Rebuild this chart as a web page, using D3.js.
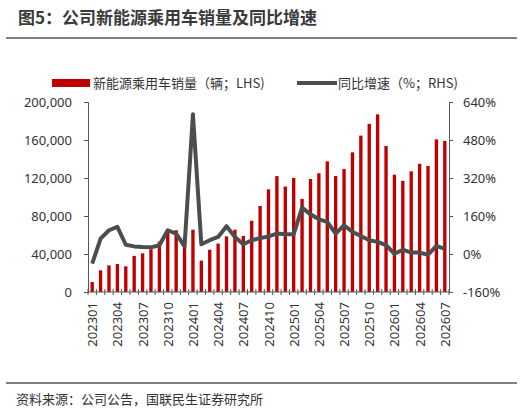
<!DOCTYPE html>
<html><head><meta charset="utf-8">
<script src="https://cdn.jsdelivr.net/npm/d3@7"></script>
<style>
body{margin:0;background:#fff;font-family:"Noto Sans CJK SC","Noto Sans",sans-serif}
text{fill:#333}
</style></head><body>
<svg id="c" width="523" height="413"></svg>
<script>
const months = ['202301','202302','202303','202304','202305','202306','202307','202308','202309','202310','202311','202312',
  '202401','202402','202403','202404','202405','202406','202407','202408','202409','202410','202411','202412',
  '202501','202502','202503','202504','202505','202506','202507','202508','202509','202510','202511','202512',
  '202601','202602','202603','202604','202605','202606','202607']
const sales = [10500,22800,28000,29500,27000,38000,40700,45000,53000,65000,65000,58000,
  65600,33000,44500,51000,58600,65600,59000,75000,90500,108000,122000,111000,
  120000,98000,119000,125000,137500,122000,129500,147000,164600,177000,187000,153700,
  123500,117000,127000,135000,132600,160700,159000]
const yoy = [-41,65,100,114,39,32,29,28,37,100,86,32,
  588,41,58,72,117,72,41,58,67,74,86,83,
  83,195,167,146,135,86,121,93,76,58,51,37,
  1,18,6,6,-3,34,22]
const leftTicks = [0,40000,80000,120000,160000,200000]
const rightTicks = [-160,0,160,320,480,640]

const svg = d3.select('#c')
const pLeft = 88, pRight = 449, pTop = 102, pBottom = 292

svg.append('text').attr('x', 18).attr('y', 24).style('font-size', '17px').style('font-weight', 'bold')
  .style('fill', '#3a3a3a').text('图5：公司新能源乘用车销量及同比增速')
svg.append('line').attr('x1', 6).attr('x2', 517).attr('y1', 38).attr('y2', 38).style('stroke', '#555').style('stroke-width', 1.5)
svg.append('line').attr('x1', 6).attr('x2', 517).attr('y1', 383).attr('y2', 383).style('stroke', '#555').style('stroke-width', 1.5)
svg.append('text').attr('x', 16).attr('y', 404).style('font-size', '13px').text('资料来源：公司公告，国联民生证券研究所')

const x = d3.scaleBand().domain(months).range([pLeft, pRight]).paddingInner(0.6).paddingOuter(0.3)
const yL = d3.scaleLinear().domain([0, 200000]).range([pBottom, pTop])
const yR = d3.scaleLinear().domain([-160, 640]).range([pBottom, pTop])

// legend
const lg = svg.append('g').attr('transform', 'translate(0,83)')
lg.append('rect').attr('x', 52).attr('y', -4).attr('width', 38).attr('height', 8).style('fill', '#c00000')
lg.append('text').attr('x', 93).attr('y', 5).style('font-size', '13px').text('新能源乘用车销量（辆；LHS)')
lg.append('line').attr('x1', 297).attr('x2', 337).attr('y1', 0).attr('y2', 0).style('stroke', '#4d4d4d').style('stroke-width', 4)
lg.append('text').attr('x', 338).attr('y', 5).style('font-size', '13px').text('同比增速（%；RHS)')

svg.selectAll('rect.bar').data(months).join('rect').attr('class', 'bar')
  .attr('x', d => x(d)).attr('width', x.bandwidth())
  .attr('y', (d, i) => yL(sales[i])).attr('height', (d, i) => pBottom - yL(sales[i]))
  .style('fill', '#c00000')

const line = d3.line().x((d, i) => x(months[i]) + x.bandwidth() / 2).y(d => yR(d))
svg.append('path').datum(yoy).attr('d', line).style('fill', 'none')
  .style('stroke', '#4d4d4d').style('stroke-width', 4).style('stroke-linejoin', 'round')

const axL = svg.append('g').attr('transform', `translate(${pLeft},0)`)
  .call(d3.axisLeft(yL).tickValues(leftTicks).tickFormat(d3.format(',')).tickSize(4).tickPadding(12))
const axR = svg.append('g').attr('transform', `translate(${pRight},0)`)
  .call(d3.axisRight(yR).tickValues(rightTicks).tickFormat(d => d + '%').tickSize(4).tickPadding(10))
for (const a of [axL, axR]) {
  a.select('.domain').style('stroke', '#555')
  a.selectAll('.tick line').style('stroke', '#555')
  a.selectAll('text').style('font-size', '13px').style('fill', '#333').style('font-family', '"Noto Sans","Noto Sans CJK SC",sans-serif')
}

// x axis with ticks at category boundaries
const xg = svg.append('g')
xg.append('line').attr('x1', pLeft).attr('x2', pRight).attr('y1', pBottom).attr('y2', pBottom).style('stroke', '#555')
const step = x.step()
const start = x(months[0]) - (x.step() - x.bandwidth()) / 2
xg.selectAll('line.t').data(d3.range(months.length + 1)).join('line').attr('class', 't')
  .attr('x1', i => start + i * step).attr('x2', i => start + i * step)
  .attr('y1', pBottom - 3).attr('y2', pBottom + 3).style('stroke', '#555')
xg.selectAll('text').data(months.filter((d, i) => i % 3 === 0)).join('text')
  .attr('transform', d => `translate(${x(d) + x.bandwidth() / 2 + 5},${pBottom + 10}) rotate(-90)`)
  .attr('text-anchor', 'end').style('font-size', '13px').style('font-family', '"Noto Sans",sans-serif').text(d => d)
</script></body></html>
